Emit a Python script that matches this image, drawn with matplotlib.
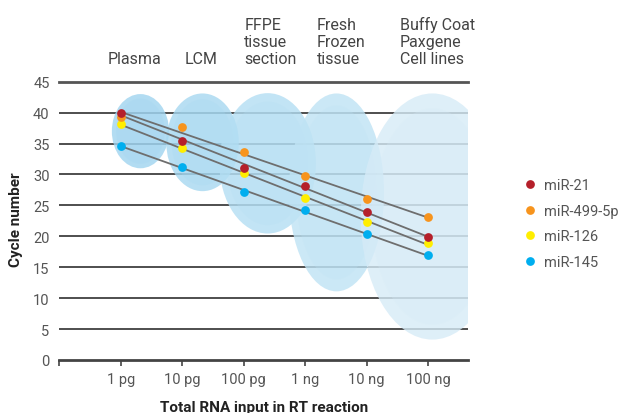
import numpy as np
import matplotlib
matplotlib.use("Agg")
import matplotlib.pyplot as plt
from matplotlib.patches import Ellipse
from matplotlib.lines import Line2D

plt.rcParams['font.family'] = ['Roboto', 'DejaVu Sans']

# ---- data ----
x_labels = ["", "1 pg", "10 pg", "100 pg", "1 ng", "10 ng", "100 ng"]
x_pos = [1, 2, 3, 4, 5, 6]
series_names = ["miR-21", "miR-499-5p", "miR-126", "miR-145"]
mir21 = [40.0, 35.4, 31.0, 28.2, 24.0, 19.9]
mir499 = [39.3, 37.6, 33.6, 29.8, 26.0, 23.1]
mir126 = [38.1, 34.3, 30.2, 26.2, 22.3, 18.9]
mir145 = [34.6, 31.2, 27.1, 24.2, 20.3, 16.9]
series_colors = ["#b5202a", "#f7941d", "#ffee00", "#00aeef"]

sample_types = ["Plasma", "LCM", "FFPE\ntissue\nsection", "Fresh\nFrozen\ntissue",
                "Buffy Coat\nPaxgene\nCell lines"]
sample_label_x = [0.779, 2.047, 3.012, 4.187, 5.543]
# ellipse centres / sizes (data units)
ell_cx = [1.32, 2.33, 3.39, 4.51, 6.07]
ell_cy = [37.0, 35.2, 31.8, 27.1, 23.2]
ell_w = [0.93, 1.18, 1.57, 1.55, 2.33]
ell_h = [12.0, 15.8, 22.7, 32.0, 39.8]
ell_colors = ["#9fd4ef", "#a6d8f0", "#b3def3", "#bfe3f4", "#d6ebf7"]

W, H = 622, 414
fig = plt.figure(figsize=(W / 100, H / 100), dpi=100)
ax = fig.add_axes([59.3 / W, 1 - 361 / H, (468 - 59.3) / W, (361 - 82.7) / H])
ax.set_xlim(0, 6.65)
ax.set_ylim(0, 45)
for s in ax.spines.values():
    s.set_visible(False)

# grid lines
for yv in range(5, 45, 5):
    ax.axhline(yv, color="#1e1e1e", lw=1.1, zorder=1)
ax.axhline(45, color="#555555", lw=2.0, zorder=1, clip_on=False)
ax.axhline(0, color="#444444", lw=2.0, zorder=1, clip_on=False)

# ellipses
for cx, cy, w, h, c in zip(ell_cx, ell_cy, ell_w, ell_h, ell_colors):
    ax.add_patch(Ellipse((cx, cy), w, h, facecolor=c, edgecolor="none", alpha=0.8, zorder=2))
    ax.add_patch(Ellipse((cx, cy), w * 0.85, h * 0.88, facecolor=c, edgecolor="none", alpha=0.25, zorder=2))

# regression lines and points
all_series = [mir21, mir499, mir126, mir145]
xs = np.array(x_pos, dtype=float)
for vals in all_series:
    k, b = np.polyfit(xs, np.array(vals), 1)
    ax.plot([xs[0], xs[-1]], [k * xs[0] + b, k * xs[-1] + b], color="#6e6e6e", lw=1.3, zorder=3)
for vals, c, z in zip(all_series[::-1], series_colors[::-1], [4, 5, 6, 7]):
    ax.plot(xs, vals, linestyle="none", marker="o", ms=6.3, color=c, mec="none", zorder=z)

ax.set_xticks(range(0, 7))
ax.set_xticklabels(x_labels)
ax.set_yticks(range(0, 50, 5))
ax.tick_params(axis="x", length=4, width=1.2, color="#444444", pad=5, labelsize=10.5, labelcolor="#555555")
ax.tick_params(axis="y", length=0, pad=7, labelsize=10.5, labelcolor="#555555")

ax.set_xlabel("Total RNA input in RT reaction", fontsize=11, fontweight="bold", color="#222222", labelpad=10)
fig.text(16.5 / W, 1 - 220 / H, "Cycle number", rotation=90, ha="center", va="center",
         fontsize=11, fontweight="bold", color="#222222")

# sample type labels
for lab, lx in zip(sample_types, sample_label_x):
    ax.text(lx, 1 - (64 - 82.7) / (361 - 82.7) - 1 + 1, lab, transform=ax.get_xaxis_transform(),
            ha="left", va="baseline", fontsize=11.5, color="#444444", linespacing=1.17)

handles = [Line2D([], [], linestyle="none", marker="o", ms=6.3, color=c, mec="none") for c in series_colors]
leg = fig.legend(handles, series_names, loc="upper left", bbox_to_anchor=(524 / W, 1 - 179 / H),
                 frameon=False, fontsize=10.5, handlelength=0.8, handletextpad=0.6, labelspacing=0.8,
                 borderaxespad=0, borderpad=0)
for t in leg.get_texts():
    t.set_color("#555555")

fig.savefig("out.png", dpi=100)
